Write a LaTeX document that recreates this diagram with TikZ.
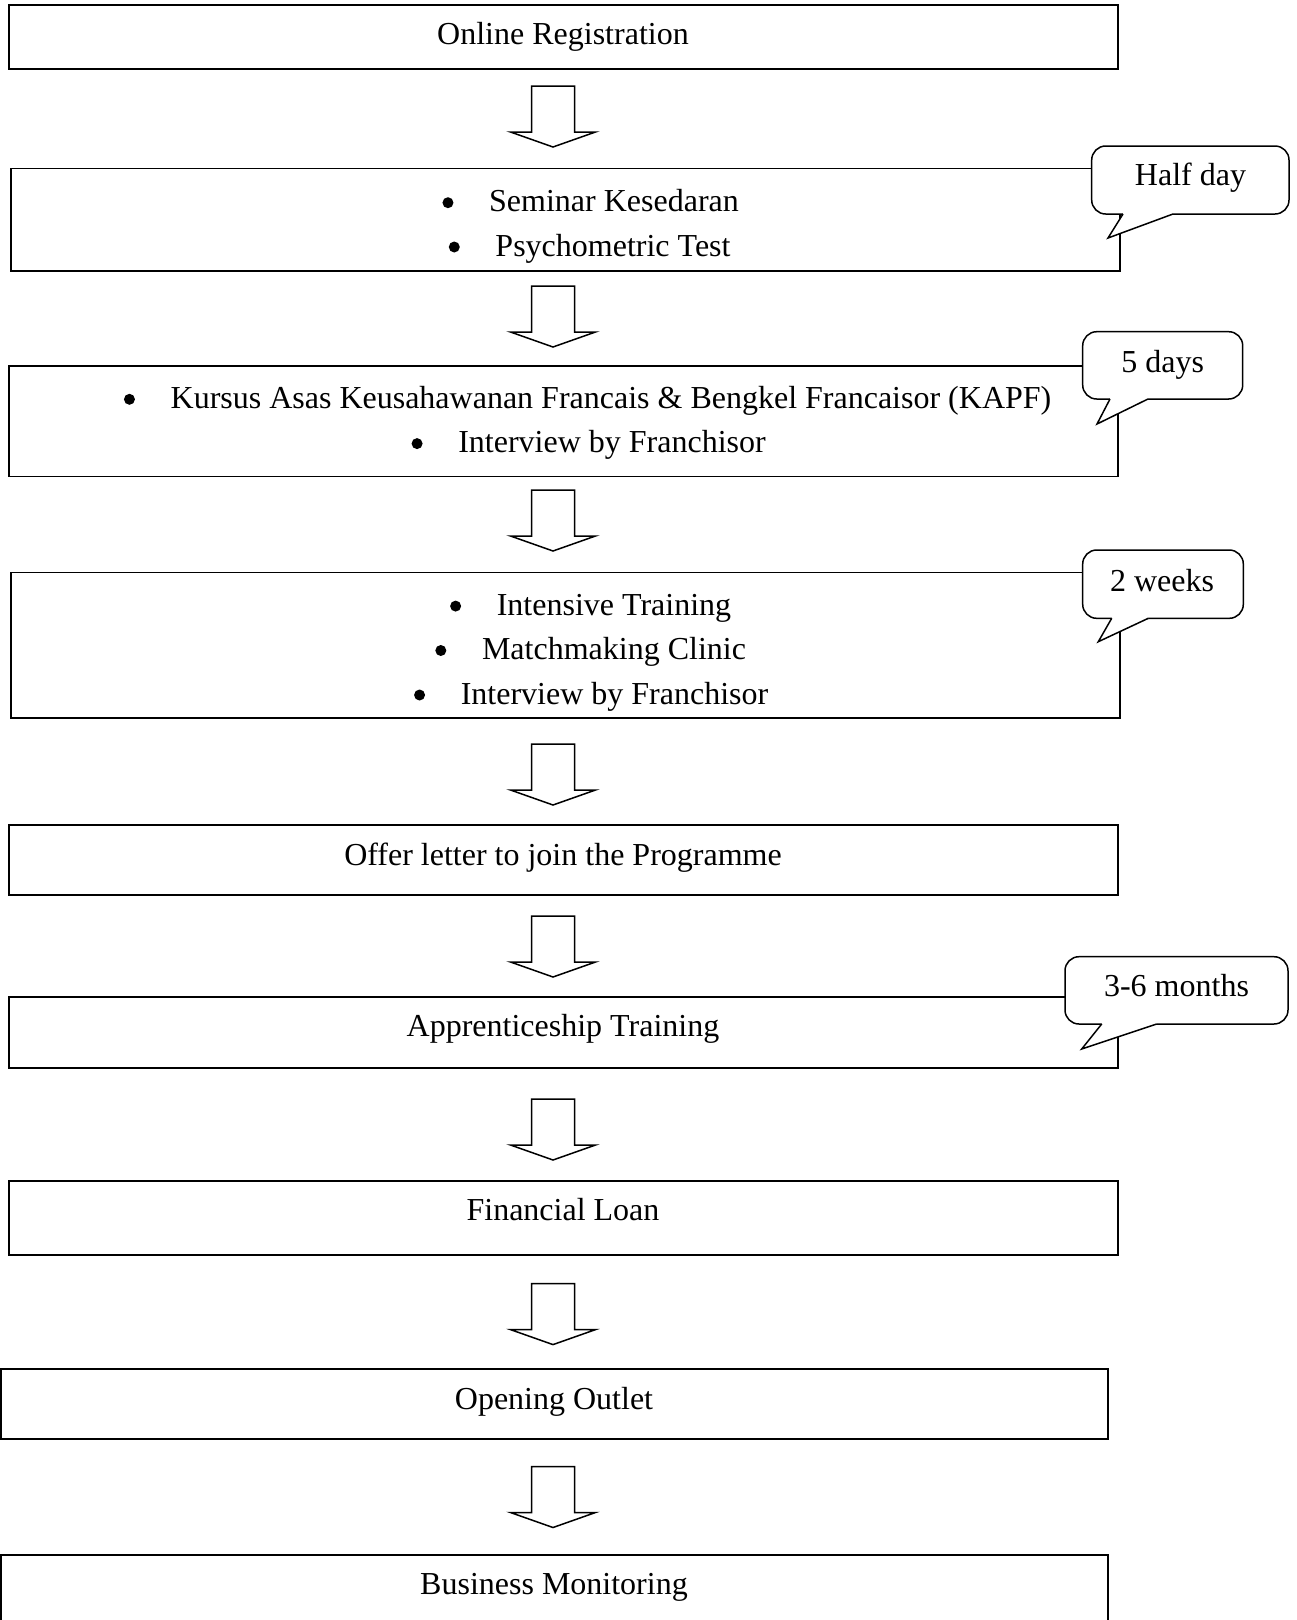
\documentclass[tikz,border=0pt]{standalone}
\usepackage{fontspec}
\setmainfont{Liberation Serif}
\newcommand\calltail[4]{%
  \fill[white] (#1+0.5,#2-3) -- (#1,#2) -- #4 -- (#3,#2) -- (#3-0.5,#2-3) -- cycle;
  \draw[tailline] (#1,#2) -- #4 -- (#3,#2);}
\begin{document}
\begin{tikzpicture}[x=1pt,y=-1pt,
  stepbox/.style={draw,line width=1.9pt,rectangle,inner sep=0pt},
  lbl/.style={font=\fontsize{32}{38}\selectfont,inner sep=0pt,anchor=base},
  dot/.style={circle,fill=black,inner sep=0pt,minimum size=11pt},
  bubble/.style={draw,fill=white,line width=1.5pt,rounded corners=14pt,inner sep=0pt},
  tailline/.style={line width=1.5pt,line join=miter},
  blockarrow/.style={draw,line width=1.5pt,fill=white,line join=miter},
  pics/downarr/.style={code={\draw[blockarrow] (-21.5,0) -- (21.5,0) -- (21.5,46) -- (42.5,46) -- (0,61) -- (-42.5,46) -- (-21.5,46) -- cycle;}}]
\useasboundingbox (0,0) rectangle (1297,1620);
\clip (0,0) rectangle (1297,1620);

% boxes
\node[stepbox,minimum width=1108.7pt,minimum height=64pt] (b1) at (563.7,37) {};
\node[stepbox,minimum width=1108.6pt,minimum height=102.5pt] (b2) at (565.7,219.75) {};
\node[stepbox,minimum width=1108.7pt,minimum height=110.5pt] (b3) at (563.7,421.25) {};
\node[stepbox,minimum width=1108.6pt,minimum height=145.5pt] (b4) at (565.7,645.25) {};
\node[stepbox,minimum width=1108.7pt,minimum height=70pt] (b5) at (563.7,860) {};
\node[stepbox,minimum width=1108.7pt,minimum height=70.6pt] (b6) at (563.7,1032.3) {};
\node[stepbox,minimum width=1108.7pt,minimum height=74pt] (b7) at (563.7,1218) {};
\node[stepbox,minimum width=1107pt,minimum height=69.6pt] (b8) at (554.5,1403.8) {};
\node[stepbox,minimum width=1107pt,minimum height=85pt] (b9) at (554.5,1597.5) {};

% texts
\node[lbl] (t1) at (563,44) {Online Registration};
\node[lbl] (t2a) at (614,211.7) {Seminar Kesedaran};
\node[dot] at ([xshift=-41pt,yshift=9pt]t2a.base west) {};
\node[lbl] (t2b) at (613,256) {Psychometric Test};
\node[dot] at ([xshift=-41pt,yshift=9pt]t2b.base west) {};
\node[lbl] (t3a) at (611,408.3) {Kursus Asas Keusahawanan Francais \& Bengkel Francaisor (KAPF)};
\node[dot] at ([xshift=-41pt,yshift=9pt]t3a.base west) {};
\node[lbl] (t3b) at (612,452.6) {Interview by Franchisor};
\node[dot] at ([xshift=-41pt,yshift=9pt]t3b.base west) {};
\node[lbl] (t4a) at (614,615.1) {Intensive Training};
\node[dot] at ([xshift=-41pt,yshift=9pt]t4a.base west) {};
\node[lbl] (t4b) at (614,659.5) {Matchmaking Clinic};
\node[dot] at ([xshift=-41pt,yshift=9pt]t4b.base west) {};
\node[lbl] (t4c) at (614.5,704) {Interview by Franchisor};
\node[dot] at ([xshift=-41pt,yshift=9pt]t4c.base west) {};
\node[lbl] (t5) at (563,865.2) {Offer letter to join the Programme};
\node[lbl] (t6) at (563,1036.5) {Apprenticeship Training};
\node[lbl] (t7) at (563,1220.5) {Financial Loan};
\node[lbl] (t8) at (554,1409.5) {Opening Outlet};
\node[lbl] (t9) at (554,1594.5) {Business Monitoring};

% block arrows
\pic at (553,86) {downarr};
\pic at (553,286) {downarr};
\pic at (553,490) {downarr};
\pic at (553,744) {downarr};
\pic at (553,916) {downarr};
\pic at (553,1099) {downarr};
\pic at (553,1283.6) {downarr};
\pic at (553,1466.5) {downarr};

% callouts
\node[bubble,minimum width=197.3pt,minimum height=68pt] (c1) at (1190.35,180) {};
\calltail{1123}{214}{1173}{(1108,238)}
\node[lbl] (c1t) at (1190.5,185) {Half day};

\node[bubble,minimum width=160pt,minimum height=67.3pt] (c2) at (1162.7,365.35) {};
\calltail{1110}{399}{1148}{(1097,424)}
\node[lbl] (c2t) at (1162.7,372.7) {5 days};

\node[bubble,minimum width=160.6pt,minimum height=68.3pt] (c3) at (1163,584.15) {};
\calltail{1111.7}{618.3}{1148.3}{(1098.3,641.7)}
\node[lbl] (c3t) at (1162,591.7) {2 weeks};

\node[bubble,minimum width=223pt,minimum height=67.3pt] (c4) at (1176.5,990.35) {};
\calltail{1101.7}{1024}{1156.7}{(1081.7,1049)}
\node[lbl] (c4t) at (1176.5,996.7) {3-6 months};
\end{tikzpicture}
\end{document}
